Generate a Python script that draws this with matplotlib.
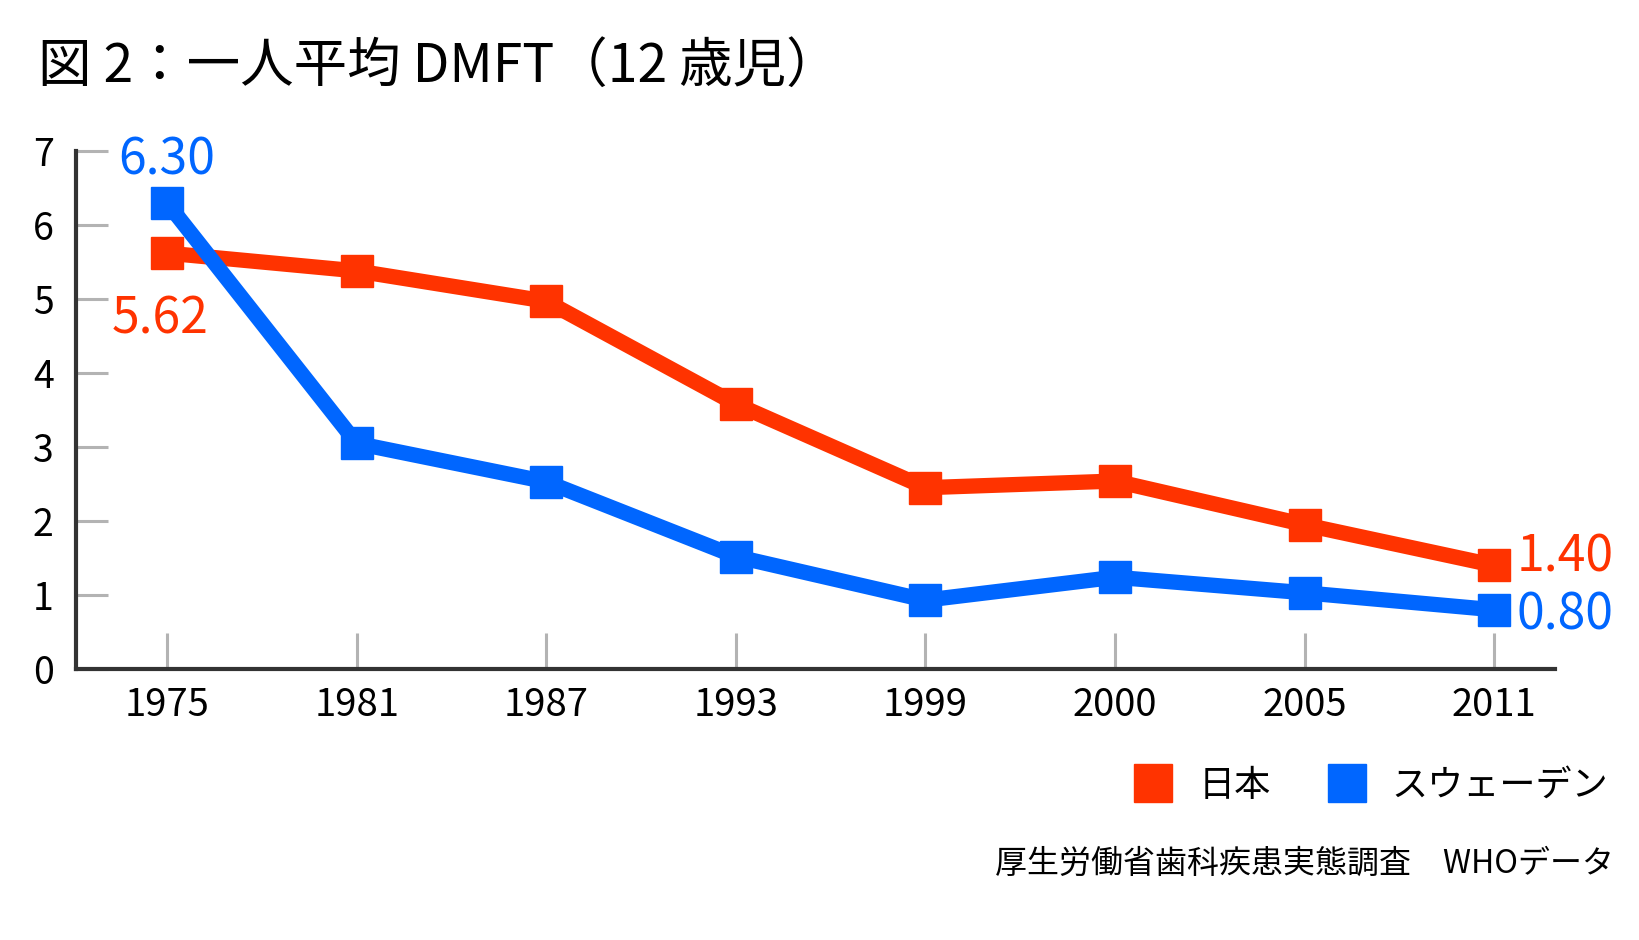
import matplotlib
matplotlib.use("Agg")
import matplotlib.pyplot as plt
from matplotlib.lines import Line2D

plt.rcParams['font.family'] = ['Noto Sans CJK JP', 'DejaVu Sans']

years = ['1975', '1981', '1987', '1993', '1999', '2000', '2005', '2011']
japan = [5.62, 5.38, 4.97, 3.58, 2.45, 2.54, 1.95, 1.40]
sweden = [6.30, 3.05, 2.53, 1.52, 0.93, 1.24, 1.03, 0.80]
series_names = ['日本', 'スウェーデン']

red = '#ff3300'
blue = '#0066ff'

fig = plt.figure(figsize=(16.4, 9.4), dpi=100)
ax = fig.add_axes([76 / 1640, 1 - 669 / 940, (1555 - 76) / 1640, (669 - 151) / 940])

x = list(range(len(years)))
ax.plot(x, japan, color=red, lw=11, marker='s', ms=23, solid_joinstyle='miter', zorder=3)
ax.plot(x, sweden, color=blue, lw=11, marker='s', ms=23, solid_joinstyle='miter', zorder=4)

ax.set_xlim(-0.48, 7.32)
ax.set_ylim(0, 7)
ax.set_xticks(x)
ax.set_xticklabels(years)
ax.set_yticks(range(8))

for s in ['top', 'right']:
    ax.spines[s].set_visible(False)
for s in ['left', 'bottom']:
    ax.spines[s].set_color('#333333')
    ax.spines[s].set_linewidth(3)

ax.tick_params(axis='y', direction='in', length=23, width=2.2, color='#b3b3b3',
               labelsize=27, pad=16)
ax.tick_params(axis='x', direction='in', length=26, width=2.2, color='#b3b3b3',
               labelsize=27.5, pad=12)

# end labels
ax.annotate(f'{sweden[0]:.2f}', (x[0], sweden[0]), xytext=(0, 12), textcoords='offset points',
            ha='center', va='bottom', color=blue, fontsize=36)
ax.annotate(f'{japan[0]:.2f}', (x[0], japan[0]), xytext=(-5, -29), textcoords='offset points',
            ha='center', va='top', color=red, fontsize=36)
ax.annotate(f'{japan[-1]:.2f}', (x[-1], japan[-1]), xytext=(16, 6), textcoords='offset points',
            ha='left', va='center', color=red, fontsize=36)
ax.annotate(f'{sweden[-1]:.2f}', (x[-1], sweden[-1]), xytext=(16, -4), textcoords='offset points',
            ha='left', va='center', color=blue, fontsize=36)

fig.text(38 / 1640, 1 - 66 / 940, '図 2：一人平均 DMFT（12 歳児）', fontsize=38.5,
         ha='left', va='center')

handles = [Line2D([], [], ls='none', marker='s', ms=28, color=red),
           Line2D([], [], ls='none', marker='s', ms=28, color=blue)]
fig.legend(handles, series_names, loc='center right', bbox_to_anchor=(1641 / 1640, 1 - 786 / 940),
           ncol=2, frameon=False, fontsize=26, handlelength=1.0, handletextpad=0.75,
           columnspacing=1.6)

fig.text(1614 / 1640, 1 - 864 / 940, '厚生労働省歯科疾患実態調査　WHOデータ', fontsize=23,
         ha='right', va='center')

fig.savefig('out.png', dpi=100, facecolor='white')
